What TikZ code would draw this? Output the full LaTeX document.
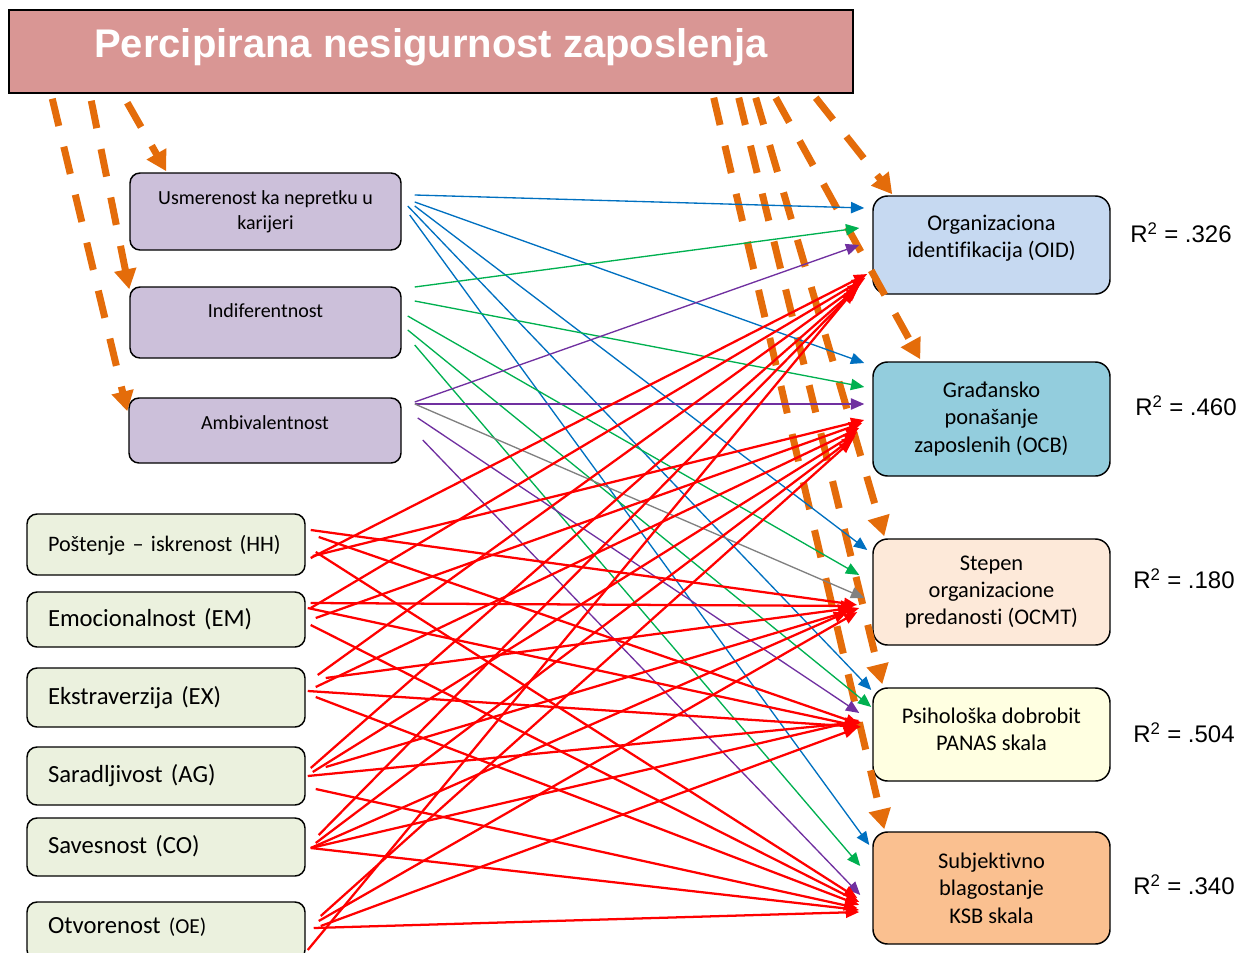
\documentclass[tikz,border=0pt]{standalone}
\usepackage{fontspec}
\setmainfont{Carlito}[Ligatures=NoCommon]
\newfontfamily\arialfont{Liberation Sans}
\usepackage{tikz}
\usetikzlibrary{arrows.meta,calc}
\definecolor{titlepink}{HTML}{D99694}
\definecolor{medlilac}{HTML}{CCC0DA}
\definecolor{perslight}{HTML}{EBF1DE}
\definecolor{oidblue}{HTML}{C6D9F1}
\definecolor{ocbteal}{HTML}{93CDDD}
\definecolor{ocmtpeach}{HTML}{FDE9D9}
\definecolor{panasyellow}{HTML}{FFFFE1}
\definecolor{ksborange}{HTML}{FAC090}
\definecolor{pathorange}{HTML}{E46C0A}
\definecolor{pathblue}{HTML}{0070C0}
\definecolor{pathgreen}{HTML}{00B050}
\definecolor{pathpurple}{HTML}{7030A0}
\definecolor{pathgray}{HTML}{808080}
\tikzset{
  titlebox/.style={draw=black, line width=1.1pt, fill=titlepink, text=white, inner sep=0pt,
    font=\arialfont\bfseries\fontsize{30}{36}\selectfont,
    minimum width=633pt, minimum height=62.25pt, text height=21.5pt, text depth=12.8pt},
  medbox/.style={draw=black, line width=1.1pt, fill=medlilac, rounded corners=7.5pt,
    minimum width=203.25pt, inner sep=0pt, align=center, font=\fontsize{15}{18.75}\selectfont},
  persbox/.style={draw=black, line width=1.1pt, fill=perslight, rounded corners=7.5pt,
    minimum width=208.5pt, minimum height=43.5pt, text width=177pt, inner xsep=15.75pt, inner ysep=0pt,
    align=left, font=\fontsize{18.5}{22}\selectfont, text height=12pt, text depth=2pt},
  outbox/.style={draw=black, line width=1.1pt, rounded corners=11pt, minimum width=177.75pt,
    inner sep=0pt, align=center, font=\fontsize{16.8}{20.6}\selectfont},
  rsq/.style={anchor=west, inner sep=0pt, font=\arialfont\fontsize{18}{22}\selectfont},
  pathdash/.style={draw=pathorange, line width=5.25pt, dash pattern=on 21pt off 16pt,
    -{Triangle[length=15pt,width=16pt]}},
  medarrow/.style={draw=#1, color=#1, line width=1pt, -{Triangle[length=10pt,width=8.5pt]}},
  persarrow/.style={draw=red, color=red, line width=1.7pt, -{Triangle[length=10pt,width=8pt]}}
}
\begin{document}
\begin{tikzpicture}[x=0.75pt,y=0.75pt,yscale=-1,xscale=1]
  \useasboundingbox (0,0) rectangle (1253,953);
  \node[titlebox] (title) at (431,51.5) {Percipirana nesigurnost zaposlenja};

  \node[medbox, minimum height=57.75pt] (usm) at (265.5,211.5) {Usmerenost ka nepretku u\\karijeri};
  \node[medbox, minimum height=53.25pt, text height=9.7pt, text depth=16.5pt] (ind) at (265.5,322.5) {Indiferentnost};
  \node[medbox, minimum width=204pt, minimum height=48.75pt, text height=9.7pt, text depth=10.5pt] (amb) at (265,430.5) {Ambivalentnost};

  \node[persbox, minimum height=45.75pt, font=\fontsize{16.6}{20}\selectfont] (hh) at (166,544.5) {\mbox{Poštenje – iskrenost (HH)}};
  \node[persbox, minimum height=41.25pt] (em) at (166,619.5) {Emocionalnost (EM)};
  \node[persbox, minimum height=44.25pt] (ex) at (166,697.5) {Ekstraverzija (EX)};
  \node[persbox] (ag) at (166,776) {Saradljivost (AG)};
  \node[persbox] (co) at (166,847) {Savesnost (CO)};
  \node[persbox, text depth=8pt] (oe) at (166,931) {Otvorenost {\fontsize{16}{20}\selectfont(OE)}};

  \node[outbox, fill=oidblue, minimum height=73.5pt] (oid) at (991.5,245) {Organizaciona\\identifikacija (OID)\rule[-13pt]{0pt}{0pt}};
  \node[outbox, fill=ocbteal, minimum height=85.5pt] (ocb) at (991.5,419) {Građansko\\ponašanje\\zaposlenih (OCB)};
  \node[outbox, fill=ocmtpeach, minimum height=79.5pt] (ocmt) at (991.5,592) {Stepen\\organizacione\\predanosti (OCMT)};
  \node[outbox, fill=panasyellow, minimum height=69.75pt] (panas) at (991.5,734.5) {Psihološka dobrobit\\PANAS skala\rule[-8.3pt]{0pt}{0pt}};
  \node[outbox, fill=ksborange, minimum height=84pt] (ksb) at (991.5,888) {Subjektivno\\blagostanje\\KSB skala};

  \node[rsq] (r2oid) at (1130,233) {R\textsuperscript{2} = .326};
  \node[rsq] (r2ocb) at (1135,406) {R\textsuperscript{2} = .460};
  \node[rsq] (r2ocmt) at (1133,579) {R\textsuperscript{2} = .180};
  \node[rsq] (r2panas) at (1133,733) {R\textsuperscript{2} = .504};
  \node[rsq] (r2ksb) at (1133,885) {R\textsuperscript{2} = .340};

  \draw[pathdash] ($(title.south west)+(119,9)$) -- ($(usm.north west)+(37,-1)$);
  \draw[pathdash] ($(title.south west)+(83,7)$) -- ($(ind.north west)+(0,3)$);
  \draw[pathdash] ($(title.south west)+(44,5)$) -- ($(amb.north west)+(-1,14)$);
  \draw[pathdash] ($(title.south east)+(-38,4)$) -- ($(oid.north west)+(20,-1)$);
  \draw[pathdash] ($(title.south east)+(-78,4)$) -- ($(ocb.north west)+(48,-2)$);
  \draw[pathdash] ($(title.south east)+(-98,4)$) -- ($(ocmt.north west)+(12,-2)$);
  \draw[pathdash] ($(title.south east)+(-115,4)$) -- ($(panas.north west)+(10,-3)$);
  \draw[pathdash] ($(title.south east)+(-140,4)$) -- ($(ksb.north west)+(12,-2)$);

  \foreach \s/\t/\a/\b/\c/\d/\col in {
      usm/oid/13/-16.5/-8/-37/pathblue, usm/ocb/13/-9.5/-8/-56/pathblue,
      usm/ocmt/13/-5.5/-5/-42/pathblue, usm/panas/6/-5.5/-1/-44.5/pathblue,
      usm/ksb/8/3.5/-3/-43/pathblue,
      ind/oid/13/-35.5/-13/-17/pathgreen, ind/ocb/13/-21.5/-8/-32/pathgreen,
      ind/ocmt/6/-6.5/-13/-17/pathgreen, ind/panas/6/7.5/-1/-27.5/pathgreen,
      ind/ksb/13/22.5/-12/-22/pathgreen,
      amb/oid/13/-28.5/-13/0/pathpurple, amb/ocb/13/-26.5/-8/-15/pathpurple,
      amb/ocmt/13/-26.5/-8/6/pathgray, amb/panas/16/-12.5/-13/-21.5/pathpurple,
      amb/ksb/21/9.5/-12/7/pathpurple}
    \draw[medarrow=\col] ($(\s.east)+(\a,\b)$) -- ($(\t.west)+(\c,\d)$);

  \foreach \s/\t/\a/\b/\c/\d in {
      hh/oid/5/13.5/-5/29, hh/ocb/7/11.5/-8/1, hh/ocmt/5/-14.5/-15/13,
      hh/panas/13/-7.5/-13/-10.5, hh/ksb/10/7.5/-15/10,
      em/oid/5/-11.5/-7/33, em/ocb/10/-1.5/-10/4, em/ocmt/5/-16.5/-18/14,
      em/panas/2/-11.5/-15/-8.5, em/ksb/5/5.5/-13/14,
      ex/oid/12/-22.5/-11/38, ex/ocb/10/-10.5/-13/9, ex/ocmt/20/-19.5/-21/16,
      ex/panas/2/-6.5/-11/-7.5, ex/ksb/10/-0.5/-13/17,
      ag/oid/5/-8/-13/41, ag/ocb/7/-4/-15/13, ag/ocmt/20/-9/-13/16,
      ag/panas/2/0/-11/-12.5, ag/ksb/10/13/-15/20,
      co/oid/13/-12/-15/43, co/ocb/10/-4/-17/17, co/ocmt/5/1/-25/20,
      co/panas/5/1/-13/-14.5, co/ksb/5/1/-13/22,
      oe/oid/2/19/-18/45, oe/ocb/15/-15/-20/21, oe/ocmt/13/-10/-15/20,
      oe/panas/15/-5/-15/-6.5, oe/ksb/8/-3/-13/24}
    \draw[persarrow] ($(\s.east)+(\a,\b)$) -- ($(\t.west)+(\c,\d)$);
\end{tikzpicture}
\end{document}
